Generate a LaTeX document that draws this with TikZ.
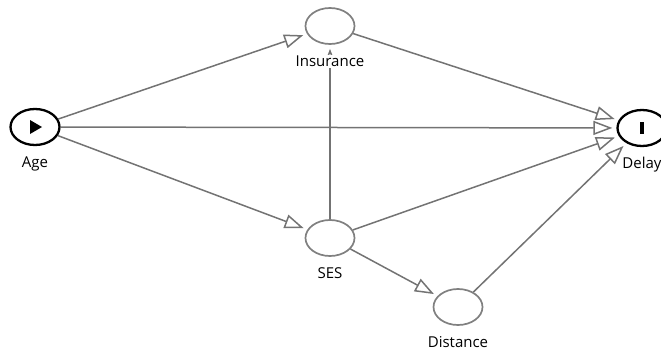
\documentclass[tikz,border=0pt]{standalone}
\usepackage{fontspec}
\setmainfont{Open Sans}
\usetikzlibrary{shapes.geometric,arrows.meta}
\definecolor{dagline}{RGB}{115,115,115}
\definecolor{dagnode}{RGB}{128,128,128}
\tikzset{
  var/.style={ellipse, draw=dagnode, line width=1.7pt,
              minimum width=49pt, minimum height=36pt, inner sep=0pt},
  expo/.style={var, draw=black, line width=2.3pt},
  lbl/.style={fill=white, inner sep=1pt, anchor=mid,
              font=\fontsize{15}{17}\selectfont},
  edge/.style={draw=dagline, line width=1.5pt, shorten >=4pt,
               -{Triangle[open, length=19pt, width=14pt]}}
}

\begin{document}
\begin{tikzpicture}[x=1pt, y=-1pt]
        \useasboundingbox (0,0) rectangle (661,356);
        \node[expo] (age)       at (35,127)  {};    %exposure
        \node[expo] (delay)     at (642,128) {};    %outcome
        \node[var]  (insurance) at (330,26)  {};
        \node[var]  (ses)       at (330,238) {};
        \node[var]  (distance)  at (458,307) {};
        % markers inside exposure and outcome
        \fill ([shift={(-5,-7)}]age.center) -- ([shift={(7,0)}]age.center)
              -- ([shift={(-5,7)}]age.center) -- cycle;
        \fill ([shift={(-2,-6)}]delay.center) rectangle ([shift={(2,6)}]delay.center);
        % edges
        \draw[edge] (age) -- (insurance);
        \draw[edge] (age) -- (delay);
        \draw[edge] (age) -- (ses);
        \draw[edge] (insurance) -- (delay);
        \draw[edge] (ses) -- (insurance);
        \draw[edge] (ses) -- (delay);
        \draw[edge] (ses) -- (distance);
        \draw[edge] (distance) -- (delay);
        % labels
        \node[lbl] (agelbl)       at ([yshift=-38pt]age.center)       {Age};
        \node[lbl] (delaylbl)     at ([yshift=-38pt]delay.center)     {Delay};
        \node[lbl] (insurancelbl) at ([yshift=-38pt]insurance.center) {Insurance};
        \node[lbl] (seslbl)       at ([yshift=-38pt]ses.center)       {SES};
        \node[lbl] (distancelbl)  at ([yshift=-38pt]distance.center)  {Distance};
    \end{tikzpicture}
\end{document}
